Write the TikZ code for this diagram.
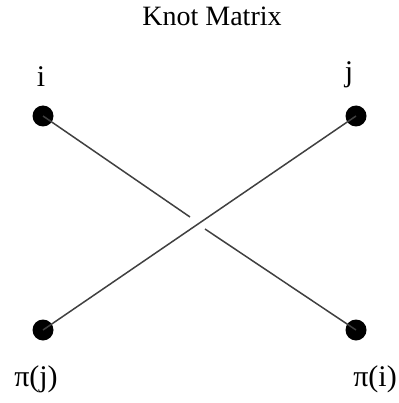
\documentclass[tikz,border=0pt]{standalone}
\usepackage{fontspec}
\setmainfont{Liberation Serif}
\begin{document}
\begin{tikzpicture}[x=1pt,y=-1pt,
  dot/.style={circle,fill=black,inner sep=0pt,minimum size=21pt},
  lbl/.style={inner sep=0pt,anchor=base,font=\fontsize{30}{34}\selectfont},
  strand/.style={draw=black!75,line width=1.5pt}]
\useasboundingbox (0,0) rectangle (398,403);
\node[inner sep=0pt,anchor=base,font=\fontsize{28}{32}\selectfont] (title) at (212,26) {Knot Matrix};
\node[dot] (i) at (43,116) {};
\node[dot] (j) at (356,116) {};
\node[dot] (pj) at (43,330) {};
\node[dot] (pi) at (356,330) {};
\node[lbl] (li) at (41,87) {i};
\node[lbl] (lj) at (349,82) {j};
\node[lbl] (lpj) at (36,386) {π(j)};
\node[lbl] (lpi) at (375,386) {π(i)};
\coordinate (g1) at (190,217);
\coordinate (g2) at (205,229);
\draw[strand] (pj.center) -- (j.center);
\draw[strand] (i.center) -- (g1);
\draw[strand] (g2) -- (pi.center);
\end{tikzpicture}
\end{document}
